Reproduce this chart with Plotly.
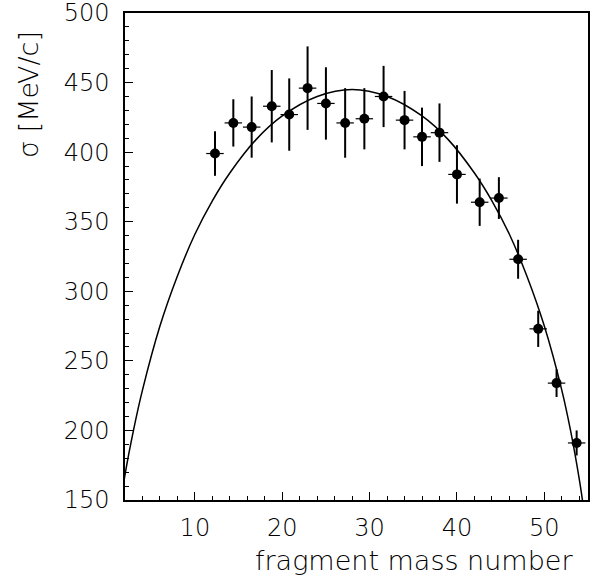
import plotly.graph_objects as go

# Data points
mass_number = [12.3, 14.4, 16.5, 18.8, 20.8, 22.9, 25.0, 27.2, 29.4, 31.6,
               34.0, 36.0, 38.0, 40.0, 42.6, 44.8, 47.0, 49.3, 51.4, 53.7]
sigma = [399, 421, 418, 433, 427, 446, 435, 421, 424, 440,
         423, 411, 414, 384, 364, 367, 323, 273, 234, 191]
sigma_err = [16, 17, 22, 26, 26, 30, 26, 25, 22, 22,
             21, 21, 21, 21, 17, 15, 14, 13, 10, 9]
mass_err = [1.0] * 20

# Fitted curve
curve_x = [1.5, 2, 3, 4, 6, 8, 10, 12, 14, 17, 20, 24, 28, 32, 36, 39,
           42, 44, 46, 48, 50, 52, 53, 54, 54.5]
curve_y = [145, 168, 201, 229, 275, 311, 341, 365, 385, 409, 426, 440, 445,
           440, 426, 409, 385, 365, 341, 311, 275, 229, 200, 165, 144]

FONT = "DejaVu Sans, Liberation Sans, sans-serif"

fig = go.Figure()
fig.add_trace(go.Scatter(
    x=curve_x, y=curve_y, mode="lines", line=dict(color="black", width=1.5, shape="spline"),
    hoverinfo="skip", showlegend=False))
fig.add_trace(go.Scatter(
    x=mass_number, y=sigma, mode="markers",
    marker=dict(color="black", size=10, symbol="circle"),
    error_y=dict(type="data", array=sigma_err, color="black", thickness=2, width=0),
    error_x=dict(type="data", array=mass_err, color="black", thickness=1.2, width=0),
    showlegend=False))

axis_common = dict(
    showline=True, linecolor="black", linewidth=1.5, mirror=True,
    ticks="inside", tickcolor="black", tickwidth=1.3,
    showgrid=False, zeroline=False, automargin=False, ticklabeloverflow="allow",
    tickfont=dict(family=FONT, size=24, color="black", weight=200),
)

fig.update_xaxes(range=[2, 55], tickmode="linear", tick0=0, dtick=10, ticklen=8,
                 minor=dict(ticks="inside", dtick=2, tick0=0, ticklen=4, tickcolor="black", tickwidth=1.2),
                 ticklabelstandoff=5, **axis_common)
fig.update_yaxes(range=[150, 500], tickmode="linear", tick0=0, dtick=50, ticklen=8,
                 minor=dict(ticks="inside", dtick=10, tick0=0, ticklen=4, tickcolor="black", tickwidth=1.2),
                 ticklabelstandoff=9, **axis_common)

fig.update_layout(
    width=600, height=577,
    margin=dict(l=125, r=12, t=13, b=77),
    paper_bgcolor="white", plot_bgcolor="white",
    annotations=[
        dict(text="fragment mass number", xref="paper", yref="paper", x=1.0, y=0,
             xanchor="right", yanchor="middle", yshift=-60, xshift=-13, showarrow=False,
             font=dict(family=FONT, size=27, color="black", weight=200)),
        dict(text="σ [MeV/c]", xref="paper", yref="paper", x=0, y=1.0,
             xanchor="center", yanchor="middle", xshift=-97, yshift=-82, textangle=-90, showarrow=False,
             font=dict(family=FONT, size=27, color="black", weight=200)),
    ],
)

# Remove the browser's default body margin so the figure fills the window exactly
fig.write_html("out.html", config={"displayModeBar": False},
               post_script="document.body.style.margin='0';")
